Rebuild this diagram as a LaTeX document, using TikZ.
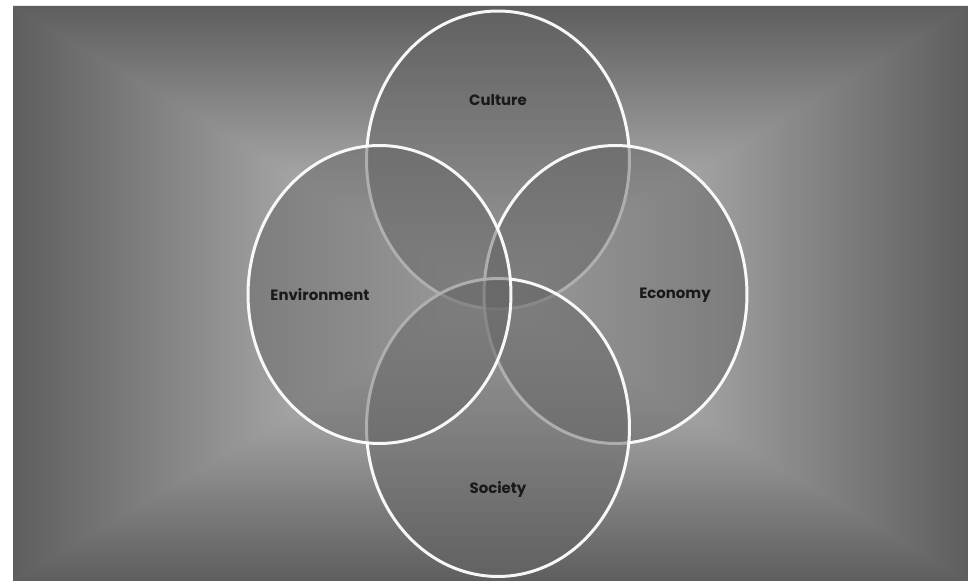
\documentclass[tikz,border=0pt]{standalone}
\usepackage{fontspec}
\setsansfont{Poppins}
\usepackage{tikz}
\usetikzlibrary{positioning,shapes.geometric}
\definecolor{bgdark}{RGB}{94,94,94}
\definecolor{bgmid}{RGB}{168,168,168}
\definecolor{bglight}{RGB}{212,212,212}
\definecolor{ringfill}{RGB}{100,100,100}

\begin{document}
\begin{tikzpicture}[x=0.02cm,y=0.02cm,
  ring/.style={ellipse,draw=white,line width=1.7pt,fill=ringfill,fill opacity=0.5,
    draw opacity=0.95,minimum width=5.26cm,minimum height=5.96cm,inner sep=0pt},
  word/.style={font=\sffamily\bfseries\fontsize{8.5}{10}\selectfont,text=black!90}]

\useasboundingbox (0,0) rectangle (968,581);
\fill[white] (0,0) rectangle (968,581);

% background, four shaded triangles
\coordinate (mid) at (490.5,287.5);
\fill[bgdark!60!bgmid] (13,0) rectangle (968,575);
\shade[left color=bgdark,middle color=bgmid,right color=bglight]
  (13,0) -- (13,575) -- (mid) -- cycle;
\shade[left color=bglight,middle color=bgmid,right color=bgdark]
  (968,0) -- (968,575) -- (mid) -- cycle;
\shade[top color=bgdark,middle color=bgmid,bottom color=bglight]
  (13,575) -- (968,575) -- (mid) -- cycle;
\shade[top color=bglight,middle color=bgmid,bottom color=bgdark]
  (13,0) -- (968,0) -- (mid) -- cycle;

% the four rings
\node[ring] (C) at (498,421) {};
\node[ring] (Ec) at (615.5,286.5) {};
\node[ring] (S) at (498,153.5) {};
\node[ring] (En) at (379.5,286.5) {};

\node[word] (culture) at (498,481) {Culture};
\node[word] (environment) at (320,286) {Environment};
\node[word] (economy) at (675,286) {Economy};
\node[word] (society) at (498,91) {Society};
\end{tikzpicture}
\end{document}
